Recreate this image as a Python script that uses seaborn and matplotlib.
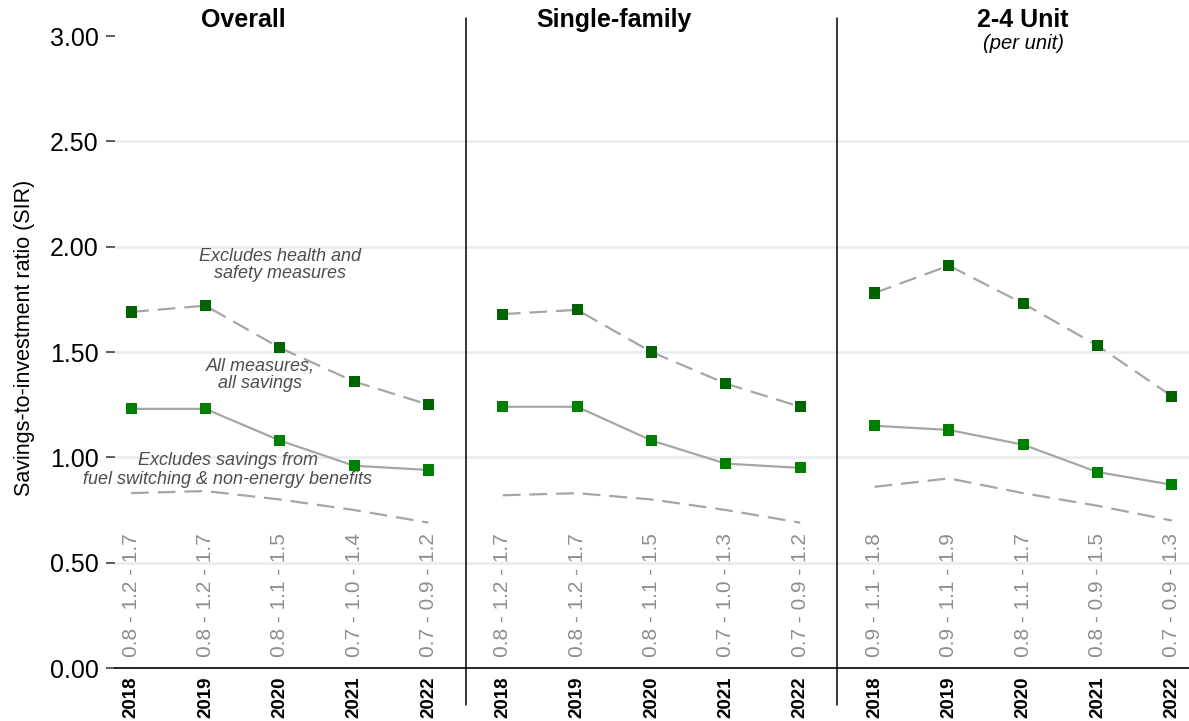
import matplotlib
import matplotlib.pyplot as plt
import pandas as pd
import seaborn as sns

matplotlib.use('Agg')

# chart data
panels = ['Overall', 'Single-family', '2-4 Unit']
years = ['2018', '2019', '2020', '2021', '2022']

excl_health_safety = {
    'Overall': [1.69, 1.72, 1.52, 1.36, 1.25],
    'Single-family': [1.68, 1.70, 1.50, 1.35, 1.24],
    '2-4 Unit': [1.78, 1.91, 1.73, 1.53, 1.29],
}
all_measures = {
    'Overall': [1.23, 1.23, 1.08, 0.96, 0.94],
    'Single-family': [1.24, 1.24, 1.08, 0.97, 0.95],
    '2-4 Unit': [1.15, 1.13, 1.06, 0.93, 0.87],
}
excl_fuel_switching = {
    'Overall': [0.83, 0.84, 0.80, 0.75, 0.69],
    'Single-family': [0.82, 0.83, 0.80, 0.75, 0.69],
    '2-4 Unit': [0.86, 0.90, 0.83, 0.77, 0.70],
}
range_labels = {
    'Overall': ['0.8 - 1.2 - 1.7', '0.8 - 1.2 - 1.7', '0.8 - 1.1 - 1.5', '0.7 - 1.0 - 1.4', '0.7 - 0.9 - 1.2'],
    'Single-family': ['0.8 - 1.2 - 1.7', '0.8 - 1.2 - 1.7', '0.8 - 1.1 - 1.5', '0.7 - 1.0 - 1.3', '0.7 - 0.9 - 1.2'],
    '2-4 Unit': ['0.9 - 1.1 - 1.8', '0.9 - 1.1 - 1.9', '0.8 - 1.1 - 1.7', '0.8 - 0.9 - 1.5', '0.7 - 0.9 - 1.3'],
}

rows = []
for p_i, panel in enumerate(panels):
    for y_i, year in enumerate(years):
        pos = p_i * len(years) + y_i
        rows.append({'panel': panel, 'year': year, 'pos': pos, 'series': 'excl_hs',
                     'value': excl_health_safety[panel][y_i]})
        rows.append({'panel': panel, 'year': year, 'pos': pos, 'series': 'all',
                     'value': all_measures[panel][y_i]})
        rows.append({'panel': panel, 'year': year, 'pos': pos, 'series': 'excl_fs',
                     'value': excl_fuel_switching[panel][y_i]})
df = pd.DataFrame(rows)

sns.set_style('white')
plt.rcParams['font.family'] = ['Liberation Sans', 'DejaVu Sans']
plt.rcParams['text.color'] = 'black'

fig = plt.figure(figsize=(11.89, 7.21), dpi=100)
ax = fig.add_axes([114.7 / 1189, 53 / 721, 1 - 114.7 / 1189, 632 / 721])

line_grey = '#a6a6a6'
styles = {'excl_hs': (0, (8, 4)), 'all': '-', 'excl_fs': (0, (8, 4))}

for panel in panels:
    for series, ls in styles.items():
        sub = df[(df['panel'] == panel) & (df['series'] == series)]
        sns.lineplot(data=sub, x='pos', y='value', color=line_grey, linewidth=1.6,
                     linestyle=ls, ax=ax, legend=False, zorder=2)

markers = df[df['series'] != 'excl_fs']
sns.scatterplot(data=markers, x='pos', y='value', hue='series',
                palette={'excl_hs': '#006400', 'all': '#008000'},
                marker='s', s=64, linewidth=0, ax=ax, legend=False, zorder=3)

# range labels along the bottom
for _, r in df[df['series'] == 'all'].iterrows():
    ax.text(r['pos'], 0.052, range_labels[r['panel']][years.index(r['year'])],
            rotation=90, ha='center', va='bottom', color='#8e8e8e', fontsize=15)

ax.set_xlim(-0.22, 14.23)
ax.set_ylim(0, 3)
ax.set_yticks([0, 0.5, 1, 1.5, 2, 2.5, 3])
ax.set_yticklabels([f'{v:.2f}' for v in [0, 0.5, 1, 1.5, 2, 2.5, 3]])
ax.set_xticks(df['pos'].unique())
ax.set_xticklabels(years * len(panels), rotation=90, fontweight='bold', fontsize=13.5)
ax.tick_params(axis='x', length=0, pad=6, labelcolor='black')
ax.tick_params(axis='y', left=True, length=6.5, width=1.1, color='#333333', pad=5,
               labelsize=18, labelcolor='black')
ax.set_xlabel('')
ax.set_ylabel('')
fig.text(25 / 1189, 1 - 338 / 721, 'Savings-to-investment ratio (SIR)', rotation=90,
         ha='center', va='center', fontsize=15.5)

ax.grid(axis='y', color='#e8eef0', linewidth=2)
ax.yaxis.get_gridlines()[-1].set_visible(False)
ax.yaxis.get_gridlines()[0].set_visible(False)
ax.set_axisbelow(True)
for side in ['top', 'right', 'left']:
    ax.spines[side].set_visible(False)
ax.spines['bottom'].set_color('black')
ax.spines['bottom'].set_linewidth(1.2)

for x in [4.5, 9.5]:
    ax.axvline(x, ymin=-0.0585, ymax=1.0285, color='black', linewidth=1.1, clip_on=False)

# panel titles
ax.text(1.51, 3.075, 'Overall', ha='center', va='center', fontsize=18, fontweight='bold')
ax.text(6.5, 3.075, 'Single-family', ha='center', va='center', fontsize=18, fontweight='bold')
ax.text(12.0, 3.075, '2-4 Unit', ha='center', va='center', fontsize=18, fontweight='bold')
ax.text(12.0, 2.965, '(per unit)', ha='center', va='center', fontsize=14.5, style='italic')

# series annotations
note = '#4d4d4d'
ax.text(2.0, 1.913, 'Excludes health and\nsafety measures', ha='center', va='center',
        fontsize=13, style='italic', color=note, linespacing=1.05)
ax.text(1.74, 1.39, 'All measures,\nall savings', ha='center', va='center',
        fontsize=13, style='italic', color=note, linespacing=1.05)
ax.text(1.3, 0.983, 'Excludes savings from', ha='center', va='center',
        fontsize=13, style='italic', color=note)
ax.text(1.3, 0.897, 'fuel switching & non-energy benefits', ha='center', va='center',
        fontsize=13, style='italic', color=note)

fig.savefig('out.png', dpi=100)
